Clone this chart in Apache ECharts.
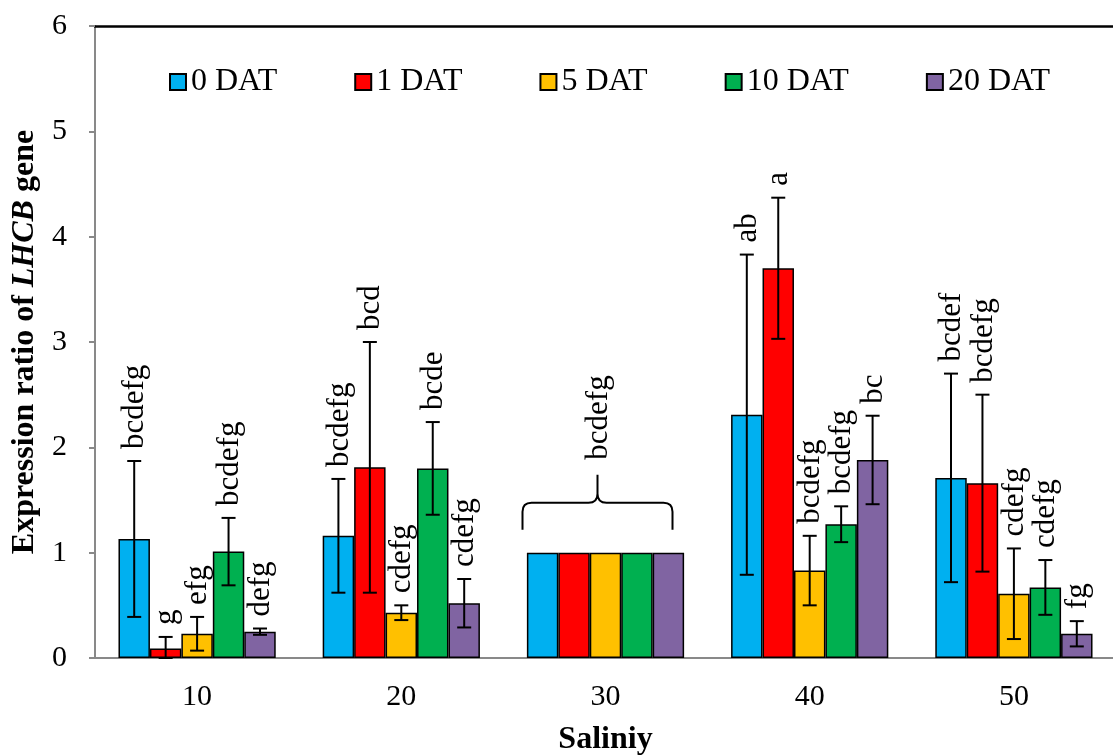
<!DOCTYPE html>
<html>
<head>
<meta charset="utf-8">
<script src="https://cdn.jsdelivr.net/npm/echarts@6/dist/echarts.min.js"></script>
<style>html,body{margin:0;padding:0;background:#fff}#c{width:1113px;height:756px}</style>
</head>
<body>
<div id="c"></div>
<script>
// ---- data ----
const categories = ['10', '20', '30', '40', '50'];
const seriesNames = ['0 DAT', '1 DAT', '5 DAT', '10 DAT', '20 DAT'];
const dat0  = [1.13, 1.16, 1.0, 2.31, 1.71];
const dat1  = [0.09, 1.81, 1.0, 3.70, 1.66];
const dat5  = [0.23, 0.43, 1.0, 0.83, 0.61];
const dat10 = [1.01, 1.80, 1.0, 1.27, 0.67];
const dat20 = [0.25, 0.52, 1.0, 1.88, 0.23];
const err0  = [0.74, 0.54, 0, 1.52, 0.99];
const err1  = [0.11, 1.19, 0, 0.67, 0.84];
const err5  = [0.16, 0.07, 0, 0.33, 0.43];
const err10 = [0.32, 0.44, 0, 0.17, 0.26];
const err20 = [0.03, 0.23, 0, 0.42, 0.12];
const letters0  = ['bcdefg', 'bcdefg', '', 'ab', 'bcdef'];
const letters1  = ['g', 'bcd', '', 'a', 'bcdefg'];
const letters5  = ['efg', 'cdefg', '', 'bcdefg', 'cdefg'];
const letters10 = ['bcdefg', 'bcde', '', 'bcdefg', 'cdefg'];
const letters20 = ['defg', 'cdefg', '', 'bc', 'fg'];
const groupLetterCategory = 2;   // salinity 30: one letter for the whole group
const groupLetter = 'bcdefg';
const groupValue = 1.0;
const yTicks = [0, 1, 2, 3, 4, 5, 6];

// ---- styling ----
const colors = ['#00B0F0', '#FF0000', '#FFC000', '#00B050', '#8064A2'];
const FONT = '"Liberation Serif", "Times New Roman", serif';
const CAT_GAP = 0.23;
const values = [dat0, dat1, dat5, dat10, dat20];
const errors = [err0, err1, err5, err10, err20];
const letters = [letters0, letters1, letters5, letters10, letters20];

const chart = echarts.init(document.getElementById('c'), null, {renderer: 'canvas'});

const barSeries = seriesNames.map((n, i) => ({
  name: n,
  type: 'bar',
  data: values[i],
  barGap: '0%',
  barCategoryGap: (CAT_GAP * 100) + '%',
  itemStyle: {color: colors[i], borderColor: '#000', borderWidth: 1.5},
  emphasis: {disabled: true},
  z: 2
}));

const errData = [];
for (let s = 0; s < 5; s++) {
  for (let c = 0; c < categories.length; c++) {
    errData.push([c, s, values[s][c], errors[s][c]]);
  }
}

function renderErr(params, api) {
  const cat = api.value(0), s = api.value(1), v = api.value(2), e = api.value(3);
  const band = api.size([1, 0])[0];
  const bw = band * (1 - CAT_GAP) / 5;
  const base = api.coord([cat, v]);
  const x = base[0] + (s - 2) * bw;
  const children = [];
  let topY = base[1];
  const ls = {stroke: '#000', lineWidth: 2};
  if (e > 0) {
    const hi = api.coord([cat, v + e])[1];
    const lo = api.coord([cat, Math.max(0, v - e)])[1];
    children.push({type: 'line', shape: {x1: x, y1: hi, x2: x, y2: lo}, style: ls});
    children.push({type: 'line', shape: {x1: x - 7, y1: hi, x2: x + 7, y2: hi}, style: ls});
    children.push({type: 'line', shape: {x1: x - 7, y1: lo, x2: x + 7, y2: lo}, style: ls});
    topY = hi;
  }
  const txt = letters[s][cat];
  if (txt) {
    children.push({
      type: 'text', x: x + 1, y: topY - 12, rotation: Math.PI / 2,
      style: {text: txt, fill: '#000', font: '31px ' + FONT, align: 'left', verticalAlign: 'middle'}
    });
  }
  return {type: 'group', children};
}

function renderBrace(params, api) {
  const cat = api.value(0), v = api.value(1);
  const p = api.coord([cat, v]);
  const xc = p[0] - 8, x0 = xc - 75, x1 = xc + 75;
  const yb = p[1] - 23, yh = p[1] - 50, yt = p[1] - 78;
  const d = `M${x0} ${yb} L${x0} ${yh + 9} Q${x0} ${yh} ${x0 + 9} ${yh} L${xc - 9} ${yh} Q${xc} ${yh} ${xc} ${yh - 9} L${xc} ${yt} ` +
            `M${xc} ${yh - 9} Q${xc} ${yh} ${xc + 9} ${yh} L${x1 - 9} ${yh} Q${x1} ${yh} ${x1} ${yh + 9} L${x1} ${yb}`;
  return {type: 'group', children: [
    {type: 'path', shape: {pathData: d}, style: {stroke: '#000', lineWidth: 2, fill: null}},
    {type: 'text', x: xc + 1, y: yt - 15, rotation: Math.PI / 2,
     style: {text: groupLetter, fill: '#000', font: '31px ' + FONT, align: 'left', verticalAlign: 'middle'}}
  ]};
}

const option = {
  animation: false,
  backgroundColor: '#fff',
  textStyle: {fontFamily: FONT},
  grid: {left: 95, top: 26, width: 1021, height: 632, containLabel: false, outerBoundsMode: 'none'},
  legend: {
    data: seriesNames,
    left: 169, top: 66, padding: 0,
    itemWidth: 16, itemHeight: 16, itemGap: 77,
    icon: 'rect',
    textStyle: {fontFamily: FONT, fontSize: 32, color: '#000'}
  },
  xAxis: [{
    type: 'category', data: categories,
    axisLine: {lineStyle: {color: '#898989', width: 2}},
    axisTick: {length: 8, lineStyle: {color: '#898989', width: 2}},
    axisLabel: {color: '#000', fontFamily: FONT, fontSize: 30, margin: 24},
    name: 'Saliniy', nameLocation: 'middle', nameGap: 66,
    nameTextStyle: {color: '#000', fontFamily: FONT, fontSize: 32, fontWeight: 'bold'}
  }, {
    type: 'category', data: categories, position: 'top',
    axisLine: {lineStyle: {color: '#000', width: 2.5}},
    axisTick: {show: false}, axisLabel: {show: false}
  }],
  yAxis: {
    type: 'value', min: yTicks[0], max: yTicks[yTicks.length - 1], interval: 1,
    splitLine: {show: false},
    axisLine: {show: true, lineStyle: {color: '#898989', width: 2}},
    axisTick: {show: true, length: 6, lineStyle: {color: '#898989', width: 2}},
    axisLabel: {color: '#000', fontFamily: FONT, fontSize: 30, margin: 28},
    name: '{b|Expression ratio of }{bi|LHCB}{b| gene}',
    nameLocation: 'middle', nameGap: 54,
    nameTextStyle: {
      rich: {
        b: {fontFamily: FONT, fontSize: 32, fontWeight: 'bold', color: '#000'},
        bi: {fontFamily: FONT, fontSize: 32, fontWeight: 'bold', fontStyle: 'italic', color: '#000'}
      }
    }
  },
  series: barSeries.concat([
    {type: 'custom', name: 'err', renderItem: renderErr, data: errData,
     encode: {x: 0, y: 2}, z: 5, silent: true},
    {type: 'custom', name: 'brace', renderItem: renderBrace,
     data: [[groupLetterCategory, groupValue]], encode: {x: 0, y: 1}, z: 5, silent: true}
  ])
};
chart.setOption(option);
</script>
</body>
</html>
